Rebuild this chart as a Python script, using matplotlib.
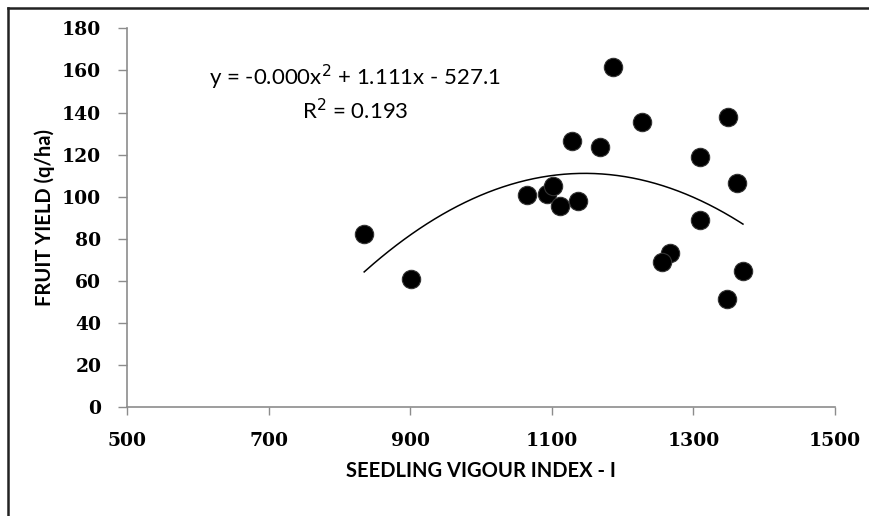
import numpy as np
import matplotlib
matplotlib.use("Agg")
import matplotlib.pyplot as plt
from matplotlib.lines import Line2D

# données
vigour = [835, 901, 1065, 1093, 1102, 1112, 1137, 1129, 1168, 1186,
          1228, 1309, 1349, 1361, 1309, 1267, 1256, 1370, 1348]
yield_qha = [82.1, 60.9, 100.7, 101.1, 105.0, 95.7, 98.0, 126.4, 123.7, 161.5,
             135.6, 118.7, 137.8, 106.4, 88.9, 73.1, 68.9, 64.9, 51.3]

x_ticks = [500, 700, 900, 1100, 1300, 1500]
y_ticks = [0, 20, 40, 60, 80, 100, 120, 140, 160, 180]

eq_line1 = "y = -0.000x$^2$ + 1.111x - 527.1"
eq_line2 = "R$^2$ = 0.193"

fig = plt.figure(figsize=(8.7, 5.16), dpi=100)
ax = fig.add_axes([127 / 870, 1 - 407.3 / 516, (835 - 127) / 870, (407.3 - 28.3) / 516])

ax.scatter(vigour, yield_qha, s=175, color="black", edgecolors="#333333",
           linewidths=0.8, zorder=3)

# courbe de tendance polynomiale (ordre 2)
coef = np.polyfit(vigour, yield_qha, 2)
xx = np.linspace(min(vigour), max(vigour), 200)
ax.plot(xx, np.polyval(coef, xx), color="black", lw=1.1, zorder=2)

ax.text(822, 156.5, eq_line1, ha="center", va="center", fontsize=16, family="Lato")
ax.text(822, 141.0, eq_line2, ha="center", va="center", fontsize=16, family="Lato")

ax.set_xlim(500, 1500)
ax.set_ylim(0, 180)
ax.set_xticks(x_ticks)
ax.set_yticks(y_ticks)
for lab in ax.get_xticklabels() + ax.get_yticklabels():
    lab.set_family("DejaVu Serif")
    lab.set_fontweight("bold")
    lab.set_fontsize(13.5)

for s in ["top", "right"]:
    ax.spines[s].set_visible(False)
for s in ["left", "bottom"]:
    ax.spines[s].set_color("#8c8c8c")
    ax.spines[s].set_linewidth(1.2)
ax.tick_params(axis="y", direction="out", length=6.5, width=1, color="#8c8c8c",
               pad=12)
ax.tick_params(axis="x", direction="out", length=6, width=1, color="#8c8c8c",
               pad=12)

ax.set_xlabel("SEEDLING VIGOUR INDEX - I", family="Lato", fontsize=14.5,
              fontweight="bold", labelpad=8)
ax.set_ylabel("FRUIT YIELD (q/ha)", family="Lato", fontsize=14.5,
              fontweight="bold", labelpad=5)

# cadre extérieur (coupé à droite et en bas)
fig.add_artist(Line2D([8 / 870, 8 / 870], [0, 1 - 8 / 516], color="#222222", lw=1.8))
fig.add_artist(Line2D([8 / 870, 1], [1 - 8 / 516, 1 - 8 / 516], color="#222222", lw=1.8))

fig.savefig("out.png", dpi=100)
